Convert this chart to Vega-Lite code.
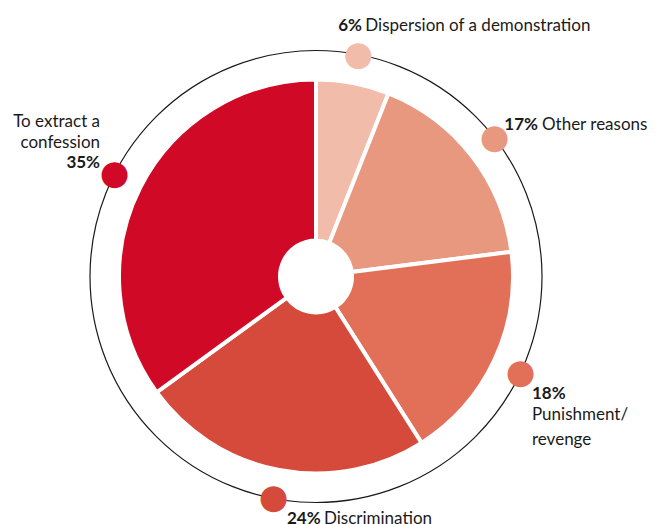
{
  "$schema": "https://vega.github.io/schema/vega-lite/v6.json",
  "width": 664,
  "height": 524,
  "autosize": {"type": "fit", "contains": "padding"},
  "padding": {"left": 0, "right": 32, "top": 19, "bottom": 0},
  "background": "white",
  "config": {"view": {"stroke": null}, "text": {"font": "Lato", "fontSize": 17, "color": "#1a1a1a"}},
  "data": {
    "values": [
      {"idx": 1, "value": 6, "pct": "6%", "label": "Dispersion of a demonstration"},
      {"idx": 2, "value": 17, "pct": "17%", "label": "Other reasons"},
      {"idx": 3, "value": 18, "pct": "18%", "label": ["Punishment/", "revenge"]},
      {"idx": 4, "value": 24, "pct": "24%", "label": "Discrimination"},
      {"idx": 5, "value": 35, "pct": "35%", "label": ["To extract a", "confession"]}
    ]
  },
  "encoding": {
    "theta": {"field": "value", "type": "quantitative", "stack": true},
    "order": {"field": "idx", "type": "quantitative"}
  },
  "layer": [
    {
      "data": {"values": [{"ring": 1}]},
      "mark": {"type": "arc", "radius": 226, "theta": 0, "theta2": 6.2832, "fill": null, "stroke": "#1a1a1a", "strokeWidth": 1.2},
      "encoding": {"theta": null, "order": null}
    },
    {
      "mark": {"type": "arc", "radius": 197, "radius2": 36, "stroke": "white", "strokeWidth": 4},
      "encoding": {
        "color": {"field": "pct", "type": "nominal", "scale": {"domain": ["6%", "17%", "18%", "24%", "35%"], "range": ["#f1bcaa", "#e99880", "#e27058", "#d54a3b", "#d00a26"]}, "legend": null}
      }
    },
    {
      "mark": {"type": "text", "radius": 226, "font": "DejaVu Sans", "fontSize": 34, "baseline": "middle", "align": "center"},
      "encoding": {
        "text": {"value": "●"},
        "color": {"field": "pct", "type": "nominal", "scale": {"domain": ["6%", "17%", "18%", "24%", "35%"], "range": ["#f1bcaa", "#e99880", "#e27058", "#d54a3b", "#d00a26"]}, "legend": null}
      }
    },
    {
      "mark": {"type": "text", "radius": 226, "fontWeight": "bold", "align": "right", "baseline": "alphabetic", "dx": 3.7, "dy": -24},
      "encoding": {"text": {"condition": {"test": "datum.idx == 1", "field": "pct"}, "value": ""}}
    },
    {
      "mark": {"type": "text", "radius": 226, "align": "left", "baseline": "alphabetic", "dx": 7, "dy": -24},
      "encoding": {"text": {"condition": {"test": "datum.idx == 1", "field": "label"}, "value": ""}}
    },
    {
      "mark": {"type": "text", "radius": 226, "fontWeight": "bold", "align": "right", "baseline": "alphabetic", "dx": 43.4, "dy": -7.5},
      "encoding": {"text": {"condition": {"test": "datum.idx == 2", "field": "pct"}, "value": ""}}
    },
    {
      "mark": {"type": "text", "radius": 226, "align": "left", "baseline": "alphabetic", "dx": 47.4, "dy": -7.5},
      "encoding": {"text": {"condition": {"test": "datum.idx == 2", "field": "label"}, "value": ""}}
    },
    {
      "mark": {"type": "text", "radius": 226, "fontWeight": "bold", "align": "left", "baseline": "alphabetic", "dx": 11.5, "dy": 26.5},
      "encoding": {"text": {"condition": {"test": "datum.idx == 3", "field": "pct"}, "value": ""}}
    },
    {
      "mark": {"type": "text", "radius": 226, "align": "left", "baseline": "alphabetic", "lineHeight": 25, "dx": 11.5, "dy": 47.5},
      "encoding": {"text": {"condition": {"test": "datum.idx == 3", "field": "label"}, "value": ""}}
    },
    {
      "mark": {"type": "text", "radius": 226, "fontWeight": "bold", "align": "right", "baseline": "alphabetic", "dx": 47, "dy": 26},
      "encoding": {"text": {"condition": {"test": "datum.idx == 4", "field": "pct"}, "value": ""}}
    },
    {
      "mark": {"type": "text", "radius": 226, "align": "left", "baseline": "alphabetic", "dx": 50.3, "dy": 26},
      "encoding": {"text": {"condition": {"test": "datum.idx == 4", "field": "label"}, "value": ""}}
    },
    {
      "mark": {"type": "text", "radius": 226, "align": "right", "baseline": "alphabetic", "lineHeight": 21, "dx": -14.6, "dy": -47},
      "encoding": {"text": {"condition": {"test": "datum.idx == 5", "field": "label"}, "value": ""}}
    },
    {
      "mark": {"type": "text", "radius": 226, "fontWeight": "bold", "align": "right", "baseline": "alphabetic", "dx": -14.6, "dy": -5.4},
      "encoding": {"text": {"condition": {"test": "datum.idx == 5", "field": "pct"}, "value": ""}}
    }
  ]
}
